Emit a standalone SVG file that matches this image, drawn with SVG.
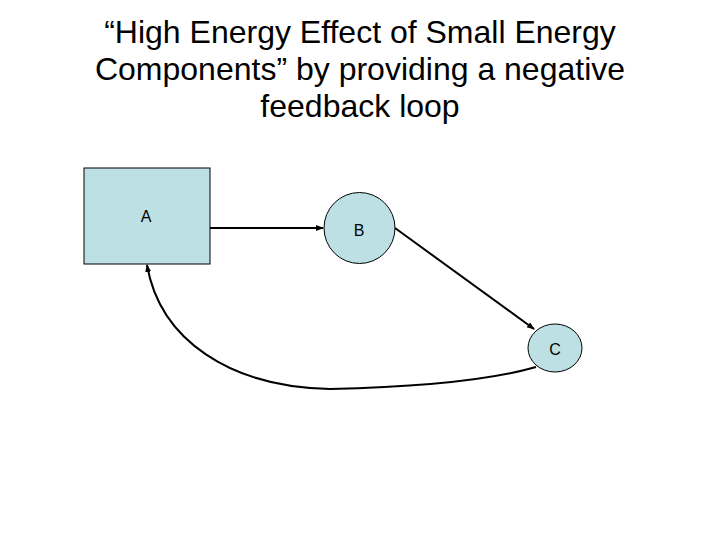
<svg xmlns="http://www.w3.org/2000/svg" width="720" height="540" viewBox="0 0 720 540">
<defs>
<style>
.title{font-family:"Liberation Sans",Arial,sans-serif;font-size:32px;fill:#000;text-anchor:middle}
.lbl{font-family:"Liberation Sans",Arial,sans-serif;font-size:16px;fill:#000;text-anchor:middle}
.node{fill:#bde0e4;stroke:#000;stroke-width:1}
.conn{fill:none;stroke:#000;stroke-width:2}
</style>
<marker id="arr" markerWidth="8" markerHeight="8" refX="7" refY="4" orient="auto" markerUnits="userSpaceOnUse">
<path d="M0,1 L8,4 L0,7 z" fill="#000"/>
</marker>
</defs>
<rect width="720" height="540" fill="#fff"/>
<g id="title">
<text class="title" x="360" y="43">“High Energy Effect of Small Energy</text>
<text class="title" x="360" y="80">Components” by providing a negative</text>
<text class="title" x="360" y="117">feedback loop</text>
</g>
<g id="nodeA">
<rect class="node" x="84" y="168" width="126" height="96"/>
<text class="lbl" x="146" y="222">A</text>
</g>
<g id="nodeB">
<circle class="node" cx="359.5" cy="228" r="35.5"/>
<text class="lbl" x="359" y="236">B</text>
</g>
<g id="nodeC">
<ellipse class="node" cx="555" cy="348" rx="27" ry="24"/>
<text class="lbl" x="555" y="355">C</text>
</g>
<g id="connectors">
<line class="conn" x1="210" y1="228" x2="323" y2="228" marker-end="url(#arr)"/>
<line class="conn" x1="395" y1="228" x2="534" y2="329" marker-end="url(#arr)"/>
<path class="conn" d="M536,367 Q470,386 330,389 C230,387 160,340 147,265" marker-end="url(#arr)"/>
</g>
</svg>
